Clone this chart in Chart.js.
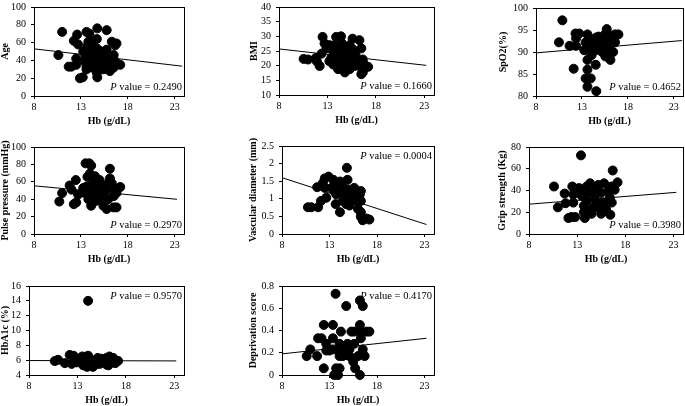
<!DOCTYPE html>
<html>
<head>
<meta charset="utf-8">
<script src="https://cdn.jsdelivr.net/npm/chart.js@4.4.1/dist/chart.umd.min.js"></script>
<style>
    body { margin: 0; background: #fff; width: 685px; height: 406px; position: relative; overflow: hidden; }
    .panel { position: absolute; }
</style>
</head>
<body>
<script>
    // shared x axis (Hb, g/dL)
    const HB_TICKS = [8, 13, 18, 23];

    // Age
    const ageHb = [11.0, 10.6, 12.25, 12.6, 12.7, 11.7, 12.0, 12.5, 12.5, 12.9, 13.2, 13.6, 13.9, 14.75, 15.75, 14.7, 14.75, 13.7, 13.7, 14.0, 14.3, 14.5, 13.4, 13.6, 14.7, 14.75, 14.6, 14.1, 15.0, 15.4, 15.75, 15.2, 16.3, 16.65, 16.8, 16.5, 16.65, 16.3, 15.9, 15.7, 16.1, 17.2, 16.5, 15.75, 13.95, 13.8, 14.3, 14.1, 13.6, 15.0, 15.4, 14.9, 13.25, 14.2, 13.9, 14.4, 15.3, 14.8, 13.5, 15.6, 14.0, 16.0];
    const ageVal = [72, 46, 62, 69, 58, 33, 33, 42, 35, 20, 21, 72, 70, 76, 74, 64, 53, 56, 46, 46, 50, 43, 39, 33, 26, 21, 35, 39, 41, 46, 52, 50, 61, 57, 59, 46, 39, 33, 30, 33, 28, 35, 32, 37, 53, 61, 61, 32, 30, 33, 30, 46, 50, 44, 40, 37, 38, 48, 45, 44, 36, 40];
    const ageTicks = [0, 20, 40, 60, 80, 100];
    const ageFit = [[8, 53], [23.8, 33.5]];

    // BMI
    const bmiHb = [10.54, 10.99, 11.8, 11.9, 12.2, 12.4, 12.5, 12.7, 12.9, 13.2, 13.4, 13.6, 13.9, 14.4, 13.7, 14.1, 13.9, 14.2, 14.1, 14.6, 14.8, 14.5, 14.8, 15.1, 15.3, 15.3, 15.6, 15.7, 15.9, 16.1, 15.8, 16.3, 16.3, 16.5, 16.65, 16.65, 16.8, 17.2, 16.5, 14.9, 14.4, 15.5, 13.6, 13.2, 15.1, 14.0, 15.0];
    const bmiVal = [22.3, 22.1, 22.6, 21.5, 19.9, 24.1, 29.8, 27.6, 25.9, 21.5, 22.6, 20.4, 29.8, 30, 27, 25.4, 23.7, 22.1, 18.8, 19.9, 17.7, 27.6, 24.8, 23.2, 18.8, 27, 29.2, 25.4, 23.7, 21.5, 19.9, 19.9, 28.7, 17.1, 17.7, 22.1, 20.4, 19.6, 25.9, 21, 22.6, 22, 24.8, 27, 25.9, 23, 21.8];
    const bmiTicks = [10, 15, 20, 25, 30, 35, 40];
    const bmiFit = [[8, 25.7], [23.2, 20.1]];

    // SpO2
    const spoHb = [10.87, 10.5, 11.65, 12.36, 12.1, 12.3, 12.7, 12.36, 13.6, 13.4, 13.25, 13.6, 13.6, 13.4, 13.96, 13.6, 14.56, 14.5, 14.05, 14.1, 14.56, 14.8, 15.2, 15.0, 15.55, 15.7, 15.55, 16.1, 16.3, 16.6, 16.97, 16.4, 15.55, 16.1, 15.2, 14.7, 14.3, 13.8, 16.6, 15.8, 14.2, 14.8, 15.3, 13.9, 16.0, 15.8, 14.4];
    const spoVal = [97.2, 92.2, 91.4, 91.4, 86.2, 94.2, 94.2, 93.1, 94, 92.2, 90.4, 88.2, 86, 84, 84, 82.1, 81.1, 87.1, 89.3, 92.2, 93.3, 92.2, 93, 91.1, 91.4, 95.2, 94.1, 93.7, 92.2, 94, 94, 90, 89, 88.2, 90, 90.8, 91.5, 91.1, 92.2, 92.7, 92.5, 93.5, 91.8, 93, 91.5, 90.5, 90.3];
    const spoTicks = [80, 85, 90, 95, 100];
    const spoFit = [[8, 89.8], [23.9, 92.6]];

    // Pulse pressure
    const ppHb = [10.7, 11.0, 11.8, 12.0, 12.25, 12.46, 12.5, 12.7, 13.25, 13.5, 13.9, 14.1, 13.7, 13.96, 14.5, 14.3, 13.6, 13.96, 14.7, 15.0, 13.8, 14.1, 14.6, 15.0, 15.4, 15.7, 15.4, 15.75, 16.1, 16.1, 16.3, 15.9, 16.5, 16.5, 16.8, 16.65, 17.2, 16.8, 15.0, 13.4, 15.75, 14.5, 14.2, 15.3];
    const ppVal = [37.3, 47, 55.7, 51, 34.3, 62, 36.2, 45.4, 52.8, 81.2, 81.2, 78.6, 65.7, 69.4, 66.4, 58.3, 54.6, 49, 51, 54.6, 39.9, 32.5, 38, 41.7, 47.2, 50.2, 32.5, 28.8, 63.8, 75, 58.3, 39.9, 43.5, 30.6, 30.6, 51, 54, 47.2, 62, 47.2, 56.5, 45.4, 44, 49];
    const ppTicks = [0, 20, 40, 60, 80, 100];
    const ppFit = [[8, 55.4], [23.25, 39.9]];

    // Vascular diameter
    const vdHb = [10.73, 11.08, 11.8, 11.7, 12.1, 12.5, 12.3, 12.5, 12.9, 12.66, 13.4, 13.5, 13.2, 13.65, 14.1, 13.9, 14.2, 14.1, 14.4, 14.6, 14.83, 14.9, 15.1, 14.75, 15.1, 15.5, 15.6, 15.8, 16.0, 16.2, 16.3, 16.3, 16.5, 16.9, 17.2, 16.3, 14.4, 13.7, 15.3, 16.3];
    const vdVal = [0.76, 0.76, 0.76, 1.33, 0.94, 1.31, 1.45, 1.58, 1.63, 1.03, 1.54, 1.22, 1.31, 0.85, 0.62, 1.36, 1.17, 1.49, 1.36, 1.08, 1.88, 1.54, 1.26, 0.85, 0.81, 1.17, 1.31, 0.94, 0.71, 1.13, 1.22, 0.49, 0.39, 0.44, 0.41, 0.94, 0.94, 1.13, 0.99, 0.62];
    const vdTicks = [0, 0.5, 1, 1.5, 2, 2.5];
    const vdFit = [[8, 1.6], [23.2, 0.27]];

    // Grip strength
    const gsHb = [10.6, 11.0, 11.7, 11.8, 12.1, 12.4, 12.8, 12.5, 12.6, 12.6, 13.4, 13.2, 13.5, 13.7, 13.8, 13.7, 14.0, 14.0, 14.35, 14.5, 14.5, 14.7, 14.85, 15.0, 15.2, 15.5, 15.7, 15.5, 16.0, 15.8, 16.2, 16.4, 16.6, 16.45, 16.6, 16.7, 17.2, 16.9, 13.9, 14.25, 15.2];
    const gsVal = [43.7, 24.5, 37.2, 28.3, 14.7, 15.6, 15.6, 43.7, 36.3, 28.9, 72.3, 42.2, 34.8, 26, 14.7, 20, 43.7, 30.4, 46.6, 37.8, 18.6, 24.5, 31.9, 40.7, 45.1, 37.8, 28.9, 18.6, 23, 46.6, 39.2, 33.3, 43.7, 17.7, 28.9, 58.4, 47.5, 40.7, 37.8, 21.5, 24.5];
    const gsTicks = [0, 20, 40, 60, 80];
    const gsFit = [[8, 27.4], [23.3, 38.3]];

    // HbA1c
    const a1cHb = [10.66, 11.0, 11.7, 12.2, 12.6, 12.4, 13.6, 14.1, 14.1, 13.2, 13.7, 14.3, 14.6, 14.8, 15.1, 15.3, 15.7, 16.0, 16.0, 16.3, 16.7, 16.9, 17.2, 16.2, 14.0, 13.5, 15.0, 15.5, 12.9];
    const a1cVal = [5.88, 6.05, 5.6, 6.7, 6.6, 5.5, 5.3, 14.0, 6.6, 6.0, 6.0, 5.5, 5.1, 6.0, 6.3, 5.5, 6.0, 5.4, 6.3, 6.5, 6.3, 5.6, 5.9, 5.3, 5.1, 6.5, 5.5, 6.2, 5.7];
    const a1cTicks = [4, 6, 8, 10, 12, 14, 16];
    const a1cFit = [[8, 5.95], [23.2, 5.9]];

    // Deprivation score
    const depHb = [10.6, 10.98, 11.7, 11.8, 12.16, 12.4, 12.4, 12.66, 12.66, 13.36, 13.36, 13.64, 13.5, 13.9, 13.7, 14.06, 14.2, 13.9, 14.06, 14.4, 14.6, 14.76, 14.9, 15.1, 15.3, 15.6, 15.5, 15.7, 15.6, 16.2, 16.2, 16.5, 16.3, 16.3, 16.5, 16.7, 16.9, 17.2, 16.2, 16.0, 13.36, 14.4, 15.1, 13.0, 14.06];
    const depVal = [0.17, 0.23, 0.17, 0.33, 0.33, 0.06, 0.45, 0.28, 0.22, 0.45, 0.33, 0.73, 0.0, 0.0, 0.06, 0.06, 0.39, 0.22, 0.28, 0.17, 0.23, 0.62, 0.28, 0.17, 0.39, 0.39, 0.12, 0.06, 0.28, 0.45, 0.67, 0.62, 0.33, 0.39, 0.23, 0.17, 0.39, 0.39, 0.0, 0.17, 0.23, 0.23, 0.23, 0.22, 0.17];
    const depTicks = [0, 0.2, 0.4, 0.6, 0.8];
    const depFit = [[8, 0.19], [23.2, 0.33]];

    const FONT = "'Liberation Serif', 'Times New Roman', serif";
    const PAD_TOP = 8;
    const PAD_RIGHT = 6;
    const X_AXIS_H = 31;

    // plot: [left, top, right, bottom] of the plot box, titleX: centre of the y title
    const panels = [
        {hb: ageHb, val: ageVal, ticks: ageTicks, fit: ageFit, yTitle: 'Age', p: '0.2490', pTop: false, plot: [34, 4, 184, 96], titleX: 5},
        {hb: bmiHb, val: bmiVal, ticks: bmiTicks, fit: bmiFit, yTitle: 'BMI', p: '0.1660', pTop: false, plot: [279, 4, 434, 95], titleX: 254},
        {hb: spoHb, val: spoVal, ticks: spoTicks, fit: spoFit, yTitle: 'SpO2(%)', p: '0.4652', pTop: false, plot: [536, 5, 683, 96], titleX: 503},
        {hb: ppHb, val: ppVal, ticks: ppTicks, fit: ppFit, yTitle: 'Pulse pressure (mmHg)', p: '0.2970', pTop: false, plot: [34, 144, 184, 234], titleX: 5},
        {hb: vdHb, val: vdVal, ticks: vdTicks, fit: vdFit, yTitle: 'Vascular diameter (mm)', p: '0.0004', pTop: true, plot: [282, 143, 434, 234], titleX: 253},
        {hb: gsHb, val: gsVal, ticks: gsTicks, fit: gsFit, yTitle: 'Grip strength (Kg)', p: '0.3980', pTop: false, plot: [529, 144, 683, 234], titleX: 502},
        {hb: a1cHb, val: a1cVal, ticks: a1cTicks, fit: a1cFit, yTitle: 'HbA1c (%)', p: '0.9570', pTop: true, plot: [29, 283, 184, 375], titleX: 5},
        {hb: depHb, val: depVal, ticks: depTicks, fit: depFit, yTitle: 'Deprivation score', p: '0.4170', pTop: true, plot: [282, 283, 434, 375], titleX: 253},
    ];

    // box round the plot area + the P value note
    const framePlugin = {
        id: 'frame',
        afterDraw(chart, args, opts) {
            const a = chart.chartArea;
            const ctx = chart.ctx;
            ctx.save();
            ctx.strokeStyle = '#000';
            ctx.lineWidth = 1;
            ctx.strokeRect(Math.round(a.left) + 0.5, Math.round(a.top) + 0.5,
                           Math.round(a.right - a.left), Math.round(a.bottom - a.top));

            const rest = ' value = ' + opts.p;
            ctx.fillStyle = '#000';
            ctx.textBaseline = 'middle';
            ctx.font = '10.5px ' + FONT;
            const restW = ctx.measureText(rest).width;
            const x = a.right - 2;
            const y = opts.top ? a.top + 10.5 : a.bottom - 9;
            ctx.textAlign = 'right';
            ctx.fillText(rest, x, y);
            ctx.font = 'italic 10.5px ' + FONT;
            ctx.fillText('P', x - restW, y);
            ctx.restore();
        }
    };

    function makePanel(p) {
        const left = p.titleX - 6;
        const top = p.plot[1] - PAD_TOP;
        const yAxisW = p.plot[0] - left;
        const w = p.plot[2] - left + PAD_RIGHT;
        const h = p.plot[3] - top + X_AXIS_H;

        const div = document.createElement('div');
        div.className = 'panel';
        div.style.left = left + 'px';
        div.style.top = top + 'px';
        const canvas = document.createElement('canvas');
        canvas.width = w;
        canvas.height = h;
        canvas.style.width = w + 'px';
        canvas.style.height = h + 'px';
        div.appendChild(canvas);
        document.body.appendChild(div);

        const points = p.hb.map((v, i) => ({x: v, y: p.val[i]}));
        const line = p.fit.map(f => ({x: f[0], y: f[1]}));

        return new Chart(canvas.getContext('2d'), {
            type: 'scatter',
            data: {
                datasets: [{
                    data: points,
                    backgroundColor: '#000',
                    borderColor: '#000',
                    pointRadius: 4.5,
                    pointHoverRadius: 4.5,
                    clip: false,
                    order: 2,
                }, {
                    data: line,
                    showLine: true,
                    borderColor: '#000',
                    borderWidth: 1,
                    pointRadius: 0,
                    clip: false,
                    order: 1,
                }]
            },
            options: {
                responsive: false,
                animation: false,
                devicePixelRatio: 1,
                layout: {padding: {top: PAD_TOP, right: PAD_RIGHT, left: 0, bottom: 0}},
                plugins: {
                    legend: {display: false},
                    tooltip: {enabled: false},
                    frame: {p: p.p, top: p.pTop},
                },
                scales: {
                    x: {
                        type: 'linear',
                        min: 8,
                        max: 24,
                        afterBuildTicks: s => { s.ticks = HB_TICKS.map(v => ({value: v})); },
                        afterFit: s => { s.height = X_AXIS_H; },
                        grid: {drawOnChartArea: false, drawTicks: true, tickLength: 3, color: '#000'},
                        border: {display: false},
                        ticks: {color: '#000', font: {family: FONT, size: 10}, padding: 2, maxRotation: 0, autoSkip: false,
                                callback: v => String(v)},
                        title: {display: true, text: 'Hb (g/dL)', color: '#000', padding: 0,
                                font: {family: FONT, size: 10, weight: 'bold'}},
                    },
                    y: {
                        type: 'linear',
                        min: p.ticks[0],
                        max: p.ticks[p.ticks.length - 1],
                        afterBuildTicks: s => { s.ticks = p.ticks.map(v => ({value: v})); },
                        afterFit: s => { s.width = yAxisW; },
                        grid: {drawOnChartArea: false, drawTicks: true, tickLength: 3, color: '#000'},
                        border: {display: false},
                        ticks: {color: '#000', font: {family: FONT, size: 10}, padding: 5, autoSkip: false,
                                callback: v => String(v)},
                        title: {display: true, text: p.yTitle, color: '#000', padding: 0,
                                font: {family: FONT, size: 10, weight: 'bold'}},
                    }
                }
            },
            plugins: [framePlugin]
        });
    }

    for (const p of panels) {
        makePanel(p);
    }
</script>
</body>
</html>
